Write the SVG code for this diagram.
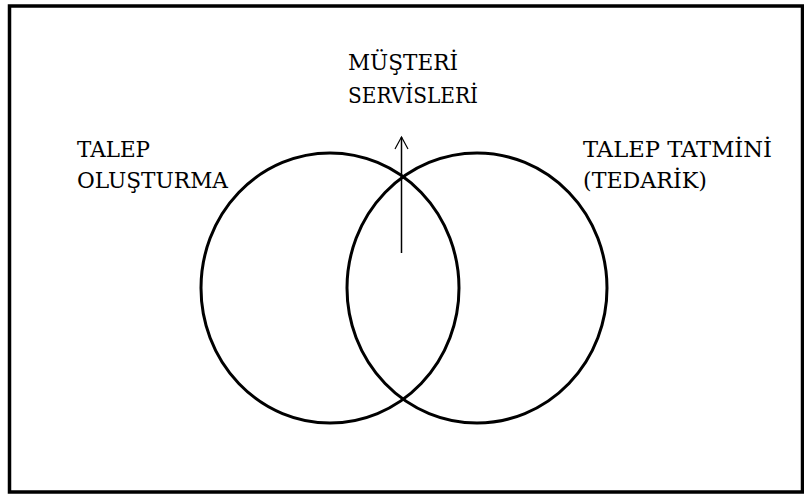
<svg xmlns="http://www.w3.org/2000/svg" width="804" height="497" viewBox="0 0 804 497">
<style>
.ring{fill:none;stroke:#000;stroke-width:3}
</style>
<rect x="0" y="0" width="804" height="497" fill="#fff"/>
<rect x="9.5" y="6" width="793" height="486" fill="none" stroke="#000" stroke-width="3.5"/>
<g font-family="'DejaVu Serif', 'Liberation Mono', monospace" font-size="23" fill="#000">
<g id="talep-olusturma">
<ellipse class="ring" cx="330" cy="288" rx="129" ry="135"/>
<text x="77" y="157" textLength="73" lengthAdjust="spacingAndGlyphs">TALEP</text>
<text x="77" y="188" textLength="151" lengthAdjust="spacingAndGlyphs">OLUŞTURMA</text>
</g>
<g id="talep-tatmini">
<ellipse class="ring" cx="477" cy="288" rx="130" ry="135"/>
<text x="583" y="157" textLength="189" lengthAdjust="spacingAndGlyphs">TALEP TATMİNİ</text>
<text x="583" y="188" textLength="124" lengthAdjust="spacingAndGlyphs">(TEDARİK)</text>
</g>
<g id="musteri-servisleri">
<text x="348" y="70" textLength="110" lengthAdjust="spacingAndGlyphs">MÜŞTERİ</text>
<text x="348" y="103" textLength="130" lengthAdjust="spacingAndGlyphs">SERVİSLERİ</text>
</g>
</g>
<g id="connectors" fill="none" stroke="#000">
<line x1="401.5" y1="253" x2="401.5" y2="137" stroke-width="1.5"/>
<polyline points="395,149 401.5,137 408,149" stroke-width="1.2"/>
</g>
</svg>
